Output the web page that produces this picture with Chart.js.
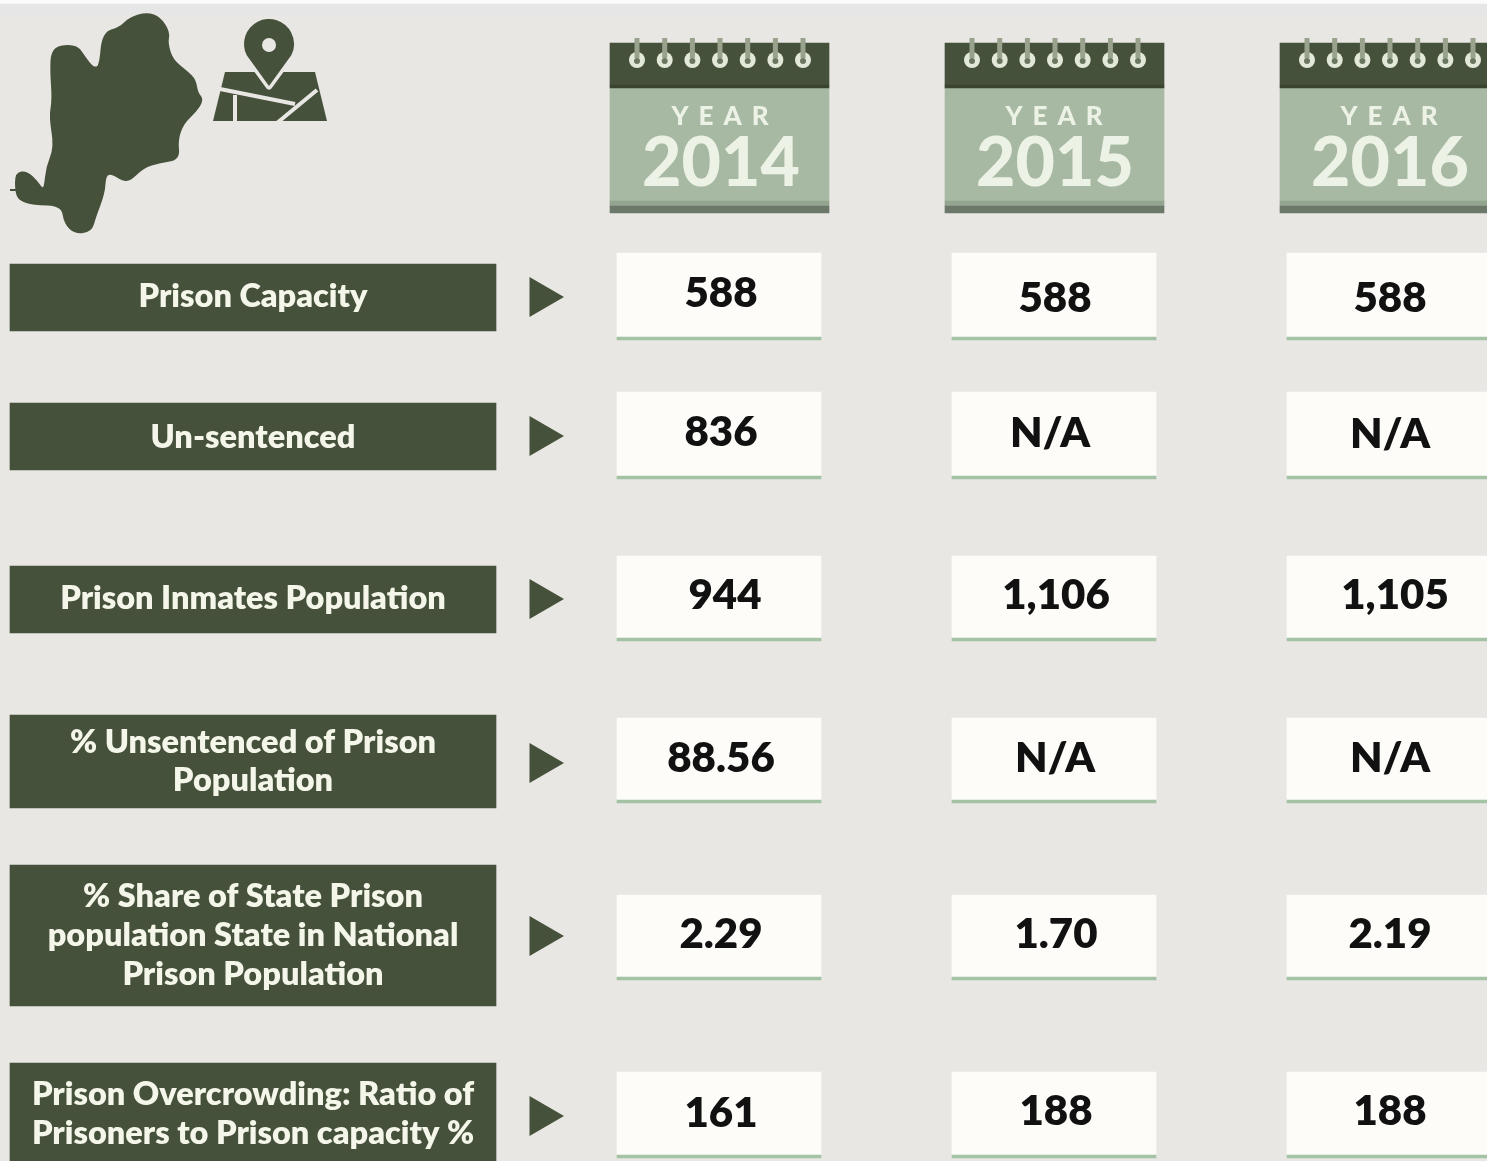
<!DOCTYPE html>
<html>
<head>
<meta charset="utf-8">
<title>Prison statistics</title>
<script src="https://cdn.jsdelivr.net/npm/chart.js@4"></script>
<style>
    html, body { margin: 0; padding: 0; background: #e9e7e4; overflow: hidden; }
    canvas { display: block; }
</style>
</head>
<body>
<canvas id="prisonChart" width="1487" height="1161"></canvas>
<script>
// data
const years = ['2014', '2015', '2016'];
const rowLabels = [
    ['Prison Capacity'],
    ['Un-sentenced'],
    ['Prison Inmates Population'],
    ['% Unsentenced of Prison', 'Population'],
    ['% Share of State Prison', 'population State in National', 'Prison Population'],
    ['Prison Overcrowding: Ratio of', 'Prisoners to Prison capacity %']
];
const values2014 = ['588', '836', '944', '88.56', '2.29', '161'];
const values2015 = ['588', 'N/A', '1,106', 'N/A', '1.70', '188'];
const values2016 = ['588', 'N/A', '1,105', 'N/A', '2.19', '188'];
const yearValues = [values2014, values2015, values2016];

// layout, all in the 1487x1161 units of the two axes
const W = 1487, H = 1161;
const calLeft = [610, 945, 1280];
const calWidth = 219;
const cellLeft = [617, 952, 1287];
const cellWidth = 204;
const cellTop = [253, 392, 556, 718, 895, 1072];
const cellBottom = [337, 476, 638, 800, 977, 1155];
const labelTop = [264, 403, 566, 715, 865, 1063];
const labelBottom = [331, 470, 633, 808, 1006, 1175];
const arrowY = [297, 436, 599, 763, 936, 1116];
const labelLineY = [[297], [438], [599], [743, 781], [897, 936, 975], [1095, 1134]];
const yearTextX = [721, 1055, 1390];
const valueTextX = [
    [721, 721, 725, 721, 721, 721],
    [1055, 1050, 1056, 1055, 1056, 1056],
    [1390, 1390, 1395, 1390, 1390, 1390]
];
const valueTextY = [
    [293, 432, 595, 758, 934, 1113],
    [298, 433, 595, 758, 934, 1111],
    [298, 434, 595, 758, 934, 1111]
];
const ringOffsets = [27, 54.7, 82.4, 110, 137.7, 165.4, 193];

const DARK = '#45513a';
const BG = '#e9e7e4';

const labelCenter = 253;
const calCenters = calLeft.map(x => x + calWidth / 2);
const cellCenters = cellLeft.map(x => x + cellWidth / 2);
const ringX = calLeft.flatMap(x => ringOffsets.map(o => x + o));

function barSet(color, thickness, points) {
    return { type: 'bar', backgroundColor: color, barThickness: thickness, grouped: false, data: points };
}
function pointSet(style, radius, color, y, extra) {
    return Object.assign({
        type: 'scatter', pointStyle: style, pointRadius: radius, pointBackgroundColor: color,
        pointBorderColor: color, pointBorderWidth: 0, data: ringX.map(x => ({ x: x, y: y }))
    }, extra);
}
function bandPoints(top, bottom) {
    return calCenters.map(x => ({ x: x, y: [top, bottom] }));
}

const datasets = [
    barSet('#fbfbfb', W, [{ x: W / 2, y: [0, 4] }]),
    barSet('#e6e6e6', W, [{ x: W / 2, y: [4, 14] }]),
    barSet(DARK, 486, labelTop.map((t, i) => ({ x: labelCenter, y: [t, labelBottom[i]] }))),
    barSet('#fdfcf9', cellWidth, cellCenters.flatMap(x => cellTop.map((t, i) => ({ x: x, y: [t, cellBottom[i]] })))),
    barSet('#a4c3a4', cellWidth, cellCenters.flatMap(x => cellBottom.map(b => ({ x: x, y: [b, b + 3] })))),
    barSet('#a7b9a2', calWidth, bandPoints(88, 201)),
    barSet('#94a58f', calWidth, bandPoints(201, 206)),
    barSet('#6c7869', calWidth, bandPoints(206, 213)),
    barSet(DARK, calWidth, bandPoints(43, 85)),
    barSet('#39432f', calWidth, bandPoints(85, 88)),
    {
        type: 'scatter', pointStyle: 'triangle', rotation: 90, pointRadius: 23,
        pointBackgroundColor: DARK, pointBorderWidth: 0,
        data: arrowY.map(y => ({ x: 541, y: y }))
    },
    pointSet('circle', 8, '#e3e9d8', 60),
    pointSet('circle', 3, '#6a7660', 61),
    pointSet('line', 10, '#99a28c', 48, { rotation: 90, pointBorderWidth: 5 })
];
// later entries go on top
datasets.forEach((d, i) => { d.order = -i; });

function poly(ctx, pts) {
    ctx.beginPath();
    pts.forEach((p, i) => i ? ctx.lineTo(p[0], p[1]) : ctx.moveTo(p[0], p[1]));
    ctx.closePath();
}
// same outline, corners rounded through the edge midpoints
function smoothPoly(ctx, pts) {
    const mid = (a, b) => [(a[0] + b[0]) / 2, (a[1] + b[1]) / 2];
    ctx.beginPath();
    const start = mid(pts[pts.length - 1], pts[0]);
    ctx.moveTo(start[0], start[1]);
    pts.forEach((p, i) => {
        const m = mid(p, pts[(i + 1) % pts.length]);
        ctx.quadraticCurveTo(p[0], p[1], m[0], m[1]);
    });
    ctx.closePath();
}

const stateOutline = [[52,52],[60,46],[77,46],[85,58],[93,68],[100,67],[103,33],[120,28],[130,18],[147,13],[160,18],[169,32],[167,43],[172,60],[187,72],[195,80],[197,93],[203,100],[195,112],[183,123],[177,140],[179,159],[160,162],[143,167],[127,183],[112,173],[105,175],[104,193],[95,217],[91,231],[75,233],[65,223],[62,205],[33,204],[20,200],[16,192],[16,173],[27,172],[37,182],[42,189],[45,187],[47,167],[55,147],[50,117],[53,100],[51,70]];

// map icons and every text sit on top of the bars
const overlay = {
    id: 'overlay',
    afterDatasetsDraw(chart) {
        const ctx = chart.ctx;
        ctx.save();

        ctx.fillStyle = DARK;
        ctx.lineJoin = 'round';
        ctx.strokeStyle = DARK;
        ctx.lineWidth = 2;
        smoothPoly(ctx, stateOutline);
        ctx.fill();
        ctx.stroke();
        ctx.beginPath();
        ctx.moveTo(10, 190);
        ctx.lineTo(20, 190);
        ctx.stroke();

        // folded map
        poly(ctx, [[225,72],[315,72],[327,121],[213,121]]);
        ctx.fill();
        ctx.strokeStyle = BG;
        ctx.lineWidth = 4;
        [[[220,89],[295,104]], [[317,90],[277,123]], [[235,95],[235,123]]].forEach(l => {
            ctx.beginPath();
            ctx.moveTo(l[0][0], l[0][1]);
            ctx.lineTo(l[1][0], l[1][1]);
            ctx.stroke();
        });
        // pin with a light halo
        ctx.beginPath();
        ctx.arc(269, 44, 25, Math.PI * 0.85, Math.PI * 0.15);
        ctx.lineTo(269, 86);
        ctx.closePath();
        ctx.lineWidth = 7;
        ctx.stroke();
        ctx.fill();
        ctx.fillStyle = BG;
        ctx.beginPath();
        ctx.arc(269, 45, 7, 0, Math.PI * 2);
        ctx.fill();

        ctx.textAlign = 'center';
        ctx.textBaseline = 'middle';

        // calendars
        ctx.fillStyle = '#edf2e6';
        years.forEach((year, i) => {
            ctx.font = '900 26px Lato';
            ctx.letterSpacing = '10px';
            ctx.fillText('YEAR', yearTextX[i] + 4, 117);
            ctx.font = '900 68px Lato';
            ctx.letterSpacing = '0px';
            ctx.fillText(year, yearTextX[i], 164);
        });

        // row names
        ctx.fillStyle = '#f5f6ea';
        ctx.font = '800 32.5px Lato';
        rowLabels.forEach((lines, r) => {
            lines.forEach((line, l) => ctx.fillText(line, labelCenter, labelLineY[r][l]));
        });

        // cell values
        ctx.fillStyle = '#111111';
        ctx.font = '800 42px Lato';
        yearValues.forEach((vals, c) => {
            vals.forEach((v, r) => ctx.fillText(v, valueTextX[c][r], valueTextY[c][r]));
        });
        ctx.restore();
    }
};

new Chart(document.getElementById('prisonChart'), {
    type: 'bar',
    data: { datasets: datasets },
    plugins: [overlay],
    options: {
        responsive: false,
        animation: false,
        events: [],
        layout: { padding: 0, autoPadding: false },
        plugins: { legend: { display: false }, tooltip: { enabled: false } },
        scales: {
            x: { type: 'linear', min: 0, max: W, display: false, offset: false },
            y: { type: 'linear', min: 0, max: H, reverse: true, display: false }
        }
    }
});
</script>
</body>
</html>
